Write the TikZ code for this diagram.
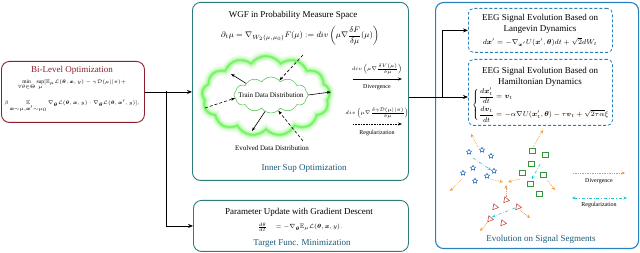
\documentclass[tikz,border=0pt]{standalone}
\usepackage{amsmath,amssymb}
\usepackage{fontspec}
\setmainfont{Liberation Serif}
\usetikzlibrary{arrows.meta,shapes.symbols,shapes.geometric}
\definecolor{optred}{RGB}{140,30,45}
\definecolor{wgfteal}{RGB}{42,125,120}
\definecolor{sigblue}{RGB}{40,128,190}
\definecolor{labteal}{RGB}{25,90,120}
\definecolor{glowgreen}{RGB}{110,245,90}
\definecolor{cloudgreen}{RGB}{70,190,70}
\definecolor{divorange}{RGB}{245,150,50}
\definecolor{regcyan}{RGB}{30,200,210}
\definecolor{starblue}{RGB}{40,110,190}
\definecolor{sqgreen}{RGB}{50,150,60}
\definecolor{trired}{RGB}{190,50,50}
\newcommand{\fs}[1]{\fontsize{#1}{#1}\selectfont}

\begin{document}
\begin{tikzpicture}[x=1pt,y=-1pt,every node/.style={font=\fs{9}},
  bigbox/.style={draw,rounded corners=8pt,line width=0.9pt,anchor=north west,inner sep=0},
  eegbox/.style={draw=sigblue,dash pattern=on 3pt off 2pt,rounded corners=5pt,line width=0.8pt,anchor=north west,inner sep=0},
  flow/.style={-{Stealth[length=5pt,width=4pt]},line width=0.8pt},
  thinflow/.style={-{Stealth[length=4pt,width=3pt]},line width=0.6pt},
  glowcloud/.style={cloud,cloud puffs=13,cloud puff arc=110,minimum width=128,minimum height=80,inner sep=0},
  divarrow/.style={divorange,densely dotted,line width=0.7pt,-{Stealth[length=3.5pt,width=3pt]}},
  regarrow/.style={regcyan,dash dot,line width=0.6pt,-{Stealth[length=3.5pt,width=3pt]}},
  starmark/.style={star,star points=5,star point ratio=2,draw=starblue,line width=0.5pt,minimum size=5.5pt,inner sep=0},
  sqmark/.style={rectangle,draw=sqgreen,line width=0.5pt,minimum size=5.5pt,inner sep=0},
  trimark/.style={regular polygon,regular polygon sides=3,draw=trired,line width=0.5pt,minimum size=7pt,inner sep=0,rotate=20}]
  \useasboundingbox (0,0) rectangle (640,253);

  % boxes
  \node[bigbox,draw=optred,minimum width=143,minimum height=61] (bilevel) at (1,61) {};
  \node[bigbox,draw=wgfteal,minimum width=216,minimum height=178] (wgf) at (192,2) {};
  \node[bigbox,draw=wgfteal,minimum width=215,minimum height=51] (update) at (193,200) {};
  \node[bigbox,draw=sigblue,line width=1.1pt,minimum width=203,minimum height=246] (signal) at (435,2) {};
  \node[eegbox,minimum width=144,minimum height=44] (langevin) at (468,8) {};
  \node[eegbox,minimum width=144,minimum height=66] (hamil) at (468,59) {};

  % bi-level
  \node[text=optred] (bltitle) at (72,70) {Bi-Level Optimization};
  \node[font=\fs{5.5}] (bleq1) at (72,85) {$\min\limits_{\forall\theta\in\Theta}\sup\limits_{\mu}[\mathbb{E}_{\mu}\mathcal{L}(\boldsymbol{\theta},\boldsymbol{x},y)-\gamma\mathcal{D}(\mu||\pi)+$};
  \node[font=\fs{5.5}] (bleq2) at (72,106) {$\beta\mathop{\mathbb{E}}\limits_{\boldsymbol{x}\sim\mu,\boldsymbol{x}'\sim\mu_0}\nabla_{\boldsymbol{\theta}}\mathcal{L}(\boldsymbol{\theta},\boldsymbol{x},y)\cdot\nabla_{\boldsymbol{\theta}}\mathcal{L}(\boldsymbol{\theta},\boldsymbol{x}',y)],$};

  % wgf
  \node (wgftitle) at (293,15) {WGF in Probability Measure Space};
  \node[font=\fs{8}] (wgfeq) at (300,36) {$\partial_t\mu=\nabla_{W_2(\mu,\mu_0)}F(\mu):=div\left(\mu\nabla\dfrac{\delta F}{\delta\mu}(\mu)\right)$};
  \foreach \w/\c in {10/12,7/25,4.5/45,2.5/70,1.2/100}
    \node[glowcloud,draw=glowgreen!\c,line width=\w pt] (evolved) at (266,96) {};
  \node[cloud,cloud puffs=12,cloud puff arc=110,draw=cloudgreen,line width=0.5pt,minimum width=74,minimum height=36,inner sep=0] (train) at (271,95) {};
  \node[font=\fs{7}] (trainlabel) at (train.center) {Train Data Distribution};
  \node[font=\fs{7}] (evolvedlabel) at (272,148) {Evolved Data Distribution};
  \coordinate (out1) at (231,74);
  \coordinate (out2) at (252,131);
  \coordinate (out3) at (331,92);
  \coordinate (in1) at (303,55);
  \coordinate (in2) at (205,108);
  \coordinate (in3) at (303,141);
  \draw[thinflow] (train.155) -- (out1);
  \draw[thinflow] (train.250) -- (out2);
  \draw[thinflow] (train.east) -- (out3);
  \draw[thinflow,densely dashed] (in1) -- (train.60);
  \draw[thinflow,densely dashed] (in2) -- (train.185);
  \draw[thinflow,densely dashed] (in3) -- (train.295);
  \coordinate (divstart) at (353,79);
  \coordinate (divend) at (402,79);
  \coordinate (regstart) at (353,124);
  \coordinate (regend) at (402,124);
  \draw[thinflow] (divstart) -- (divend);
  \draw[thinflow,densely dotted] (regstart) -- (regend);
  \node[font=\fs{5.5}] (divformula) at (377,69) {$div\left(\mu\nabla\frac{\delta V(\mu)}{\delta\mu}\right)$};
  \node[font=\fs{6}] (divlabel) at (377,87) {Divergence};
  \node[font=\fs{5.5}] (regformula) at (377,113) {$div\left(\mu\nabla\frac{\delta\gamma\mathcal{D}(\mu||\pi)}{\delta\mu}\right)$};
  \node[font=\fs{6}] (reglabel) at (377,133) {Regularization};
  \node[text=labteal] (suplabel) at (304,168) {Inner Sup Optimization};

  % update
  \node (updtitle) at (299,212) {Parameter Update with Gradient Descent};
  \node[font=\fs{6.5}] (updeq) at (300,227) {$\frac{d\theta}{dt}\quad=-\nabla_{\boldsymbol{\theta}}\mathbb{E}_{\mu}\mathcal{L}(\boldsymbol{\theta},\boldsymbol{x},y).$};
  \node[text=labteal] (minlabel) at (302,243) {Target Func. Minimization};

  % signal evolution
  \node (lgtitle) at (540,18) {EEG Signal Evolution Based on};
  \node (lgtitle2) at (540,29) {Langevin Dynamics};
  \node[font=\fs{7.5}] (lgeq) at (540,42) {$d\boldsymbol{x}'=-\nabla_{\boldsymbol{x}'}U(\boldsymbol{x}',\boldsymbol{\theta})dt+\sqrt{2}dW_t$};
  \node (hmtitle) at (540,71) {EEG Signal Evolution Based on};
  \node (hmtitle2) at (540,82) {Hamiltonian Dynamics};
  \node[font=\fs{6.6},anchor=west,inner sep=0] (hmeq) at (472,105) {$\left\{\begin{aligned}\frac{d\boldsymbol{x}_t'}{dt}&=\boldsymbol{v}_t\\[-1pt]\frac{d\boldsymbol{v}_t}{dt}&=-\alpha\nabla U(\boldsymbol{x}_t',\boldsymbol{\theta})-\tau\boldsymbol{v}_t+\sqrt{2\tau\alpha}\xi\end{aligned}\right.$};

  % scatter
  \foreach \p [count=\i] in {(469,152),(482,150),(491,156),(473,168),(463,173),(487,176),(494,171),(475,181)}
    \node[starmark] (st\i) at \p {};
  \foreach \p [count=\i] in {(532,151),(545,155),(531,164),(522,173),(543,175),(530,184),(539,194)}
    \node[sqmark] (sq\i) at \p {};
  \foreach \p [count=\i] in {(506,200),(495,207),(518,207),(490,219),(503,223)}
    \node[trimark] (tr\i) at \p {};
  \draw[divarrow] (478,147) -- (471,134);
  \draw[divarrow] (533,147) -- (543,130);
  \draw[divarrow] (462,179) -- (450,191);
  \draw[divarrow] (490,179) -- (503,182);
  \draw[divarrow] (520,179) -- (508,182);
  \draw[divarrow] (506,197) -- (506,185);
  \draw[divarrow] (547,180) -- (555,190);
  \draw[divarrow] (520,210) -- (530,218);
  \draw[divarrow] (488,222) -- (480,231);
  \draw[regarrow] (473,158) -- (491,170);
  \draw[regarrow] (540,164) -- (532,179);
  \draw[regarrow] (515,208) -- (492,217);
  \coordinate (legdiv1) at (573,173);
  \coordinate (legdiv2) at (625,173);
  \coordinate (legreg1) at (572,198);
  \coordinate (legreg2) at (627,198);
  \draw[divarrow] (legdiv1) -- (legdiv2);
  \draw[regarrow,{Stealth[length=3.5pt,width=3pt]}-{Stealth[length=3.5pt,width=3pt]}] (legreg1) -- (legreg2);
  \node[font=\fs{6}] (legdivlabel) at (599,181) {Divergence};
  \node[font=\fs{6}] (legreglabel) at (599,205) {Regularization};
  \node[text=labteal] (seglabel) at (541,239) {Evolution on Signal Segments};

  % connectors
  \coordinate (split) at (166,91.5);
  \coordinate (fork) at (442,97);
  \draw[flow] (bilevel.east) -- (bilevel.east -| wgf.west);
  \draw[flow] (split) |- (update.west);
  \draw[line width=0.8pt] (wgf.east |- fork) -- (fork);
  \draw[flow] (fork) -- (fork -| hamil.west);
  \draw[flow] (fork) |- (langevin.west);
\end{tikzpicture}
\end{document}
